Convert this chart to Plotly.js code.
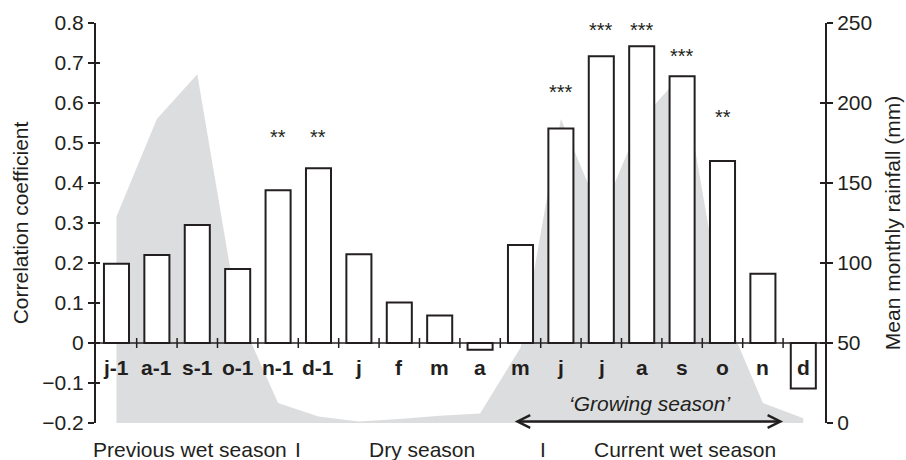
<!DOCTYPE html>
<html>
<head>
<meta charset="utf-8">
<script src="https://cdn.plot.ly/plotly-3.0.1.min.js"></script>
<style>
  html, body { margin: 0; padding: 0; background: #ffffff; }
  #chart { width: 906px; height: 460px; }
</style>
</head>
<body>
<div id="chart"></div>
<script>
// ---- data ----
const categories = ['j-1', 'a-1', 's-1', 'o-1', 'n-1', 'd-1', 'j', 'f', 'm', 'a', 'm', 'j', 'j', 'a', 's', 'o', 'n', 'd'];
const correlation = [0.198, 0.220, 0.295, 0.185, 0.382, 0.437, 0.222, 0.101, 0.069, -0.017, 0.245, 0.536, 0.717, 0.742, 0.667, 0.455, 0.173, -0.114];
const rainfall = [129, 190, 218, 69, 12.5, 4, 1, 2.5, 4.5, 6, 47, 190, 130, 190, 218, 72, 12.5, 3];
const significance = ['', '', '', '', '**', '**', '', '', '', '', '', '***', '***', '***', '***', '**', '', ''];
const starLevels = [null, null, null, null, 0.524, 0.524, null, null, null, null, null, 0.637, 0.792, 0.792, 0.728, 0.574, null, null];
const seasonLabels = ['Previous wet season', 'I', 'Dry season', 'I', 'Current wet season'];
const seasonPos = [1.81, 4.49, 7.55, 10.56, 14.07];
const corrTicks = [-0.2, -0.1, 0, 0.1, 0.2, 0.3, 0.4, 0.5, 0.6, 0.7, 0.8];
const rainTicks = [0, 50, 100, 150, 200, 250];

const idx = categories.map((_, i) => i);
const FONT = 'Liberation Sans, Arial, Helvetica, sans-serif';
const INK = '#231f20';

const traces = [
  {
    type: 'scatter', mode: 'lines', x: idx, y: rainfall, yaxis: 'y',
    fill: 'tozeroy', fillcolor: '#dcdddf', line: { width: 0, color: '#dcdddf' },
    hoverinfo: 'skip', showlegend: false
  },
  { type: 'scatter', x: [], y: [], yaxis: 'y3', showlegend: false, hoverinfo: 'skip' },
  { type: 'scatter', x: [], y: [], yaxis: 'y4', showlegend: false, hoverinfo: 'skip' },
  {
    type: 'bar', x: idx, y: correlation, yaxis: 'y2', width: 0.62,
    marker: { color: '#ffffff', line: { color: INK, width: 2 } },
    hoverinfo: 'skip', showlegend: false
  }
];

const annotations = [];
categories.forEach((c, i) => {
  annotations.push({
    x: i, y: -0.062, xref: 'x', yref: 'y2', text: '<b>' + c + '</b>', showarrow: false,
    font: { family: FONT, size: 21, color: INK }, xanchor: 'center', yanchor: 'middle'
  });
  if (significance[i]) {
    annotations.push({
      x: i, y: starLevels[i], xref: 'x', yref: 'y2', text: significance[i], showarrow: false,
      font: { family: FONT, size: 20, color: INK }, xanchor: 'center', yanchor: 'middle', yshift: -4
    });
  }
});
seasonLabels.forEach((s, k) => {
  annotations.push({
    x: seasonPos[k], y: -0.0675, xref: 'x', yref: 'paper', text: s, showarrow: false,
    font: { family: FONT, size: 21, color: INK }, xanchor: 'center', yanchor: 'middle'
  });
});
annotations.push({
  x: 13.2, y: -0.152, xref: 'x', yref: 'y2', text: '<i>\u2018Growing season\u2019</i>', showarrow: false,
  font: { family: FONT, size: 21, color: INK }, xanchor: 'center', yanchor: 'middle'
});
annotations.push({
  x: 16.5, y: -0.196, ax: 9.82, ay: -0.196, xref: 'x', yref: 'y2', axref: 'x', ayref: 'y2',
  text: '', showarrow: true, arrowside: 'end+start', arrowhead: 5, startarrowhead: 5,
  arrowsize: 1.0, startarrowsize: 1.0, arrowwidth: 2.5, arrowcolor: INK, standoff: 0, startstandoff: 0
});

const shapes = [
  { type: 'line', xref: 'paper', yref: 'y2', x0: 0, x1: 1, y0: 0, y1: 0, layer: 'above',
    line: { color: INK, width: 1.5 } }
];
for (let i = 0; i < categories.length - 1; i++) {
  shapes.push({ type: 'line', xref: 'x', yref: 'y2', x0: i + 0.5, x1: i + 0.5, y0: -0.0125, y1: 0.0125,
    layer: 'above', line: { color: INK, width: 1.5 } });
}

const layout = {
  width: 906, height: 460,
  margin: { l: 96, r: 81, t: 23, b: 37 },
  paper_bgcolor: '#ffffff', plot_bgcolor: 'rgba(0,0,0,0)',
  font: { family: FONT, size: 21, color: INK },
  showlegend: false,
  xaxis: { range: [-0.507, 17.537], showticklabels: false, showgrid: false, zeroline: false,
    showline: false, ticks: '', fixedrange: true },
  yaxis: { side: 'right', range: [0, 250], tickvals: rainTicks, ticks: 'outside', ticklen: 6,
    tickwidth: 1.5, tickcolor: INK, showline: true, linewidth: 2, linecolor: INK,
    showgrid: false, zeroline: false, tickfont: { family: FONT, size: 21, color: INK },
    title: { text: 'Mean monthly rainfall (mm)', font: { family: FONT, size: 21, color: INK }, standoff: 14 } },
  yaxis2: { overlaying: 'y', side: 'left', range: [-0.2, 0.8], tickvals: corrTicks, ticks: 'outside',
    ticklen: 6, tickwidth: 1.5, tickcolor: INK, showline: true, linewidth: 2, linecolor: INK,
    showgrid: false, zeroline: false, tickfont: { family: FONT, size: 21, color: INK },
    title: { text: 'Correlation coefficient', font: { family: FONT, size: 21, color: INK }, standoff: 8 } },
  yaxis3: { overlaying: 'y', side: 'right', range: [0, 250], tickvals: rainTicks, ticks: 'inside',
    ticklen: 5, tickwidth: 1.5, tickcolor: INK, showline: false, showticklabels: false,
    showgrid: false, zeroline: false },
  yaxis4: { overlaying: 'y', side: 'left', range: [-0.2, 0.8], tickvals: corrTicks, ticks: 'inside',
    ticklen: 4, tickwidth: 1.5, tickcolor: INK, showline: false, showticklabels: false,
    showgrid: false, zeroline: false },
  annotations: annotations,
  shapes: shapes
};

Plotly.newPlot('chart', traces, layout, { staticPlot: true, displayModeBar: false });
</script>
</body>
</html>
